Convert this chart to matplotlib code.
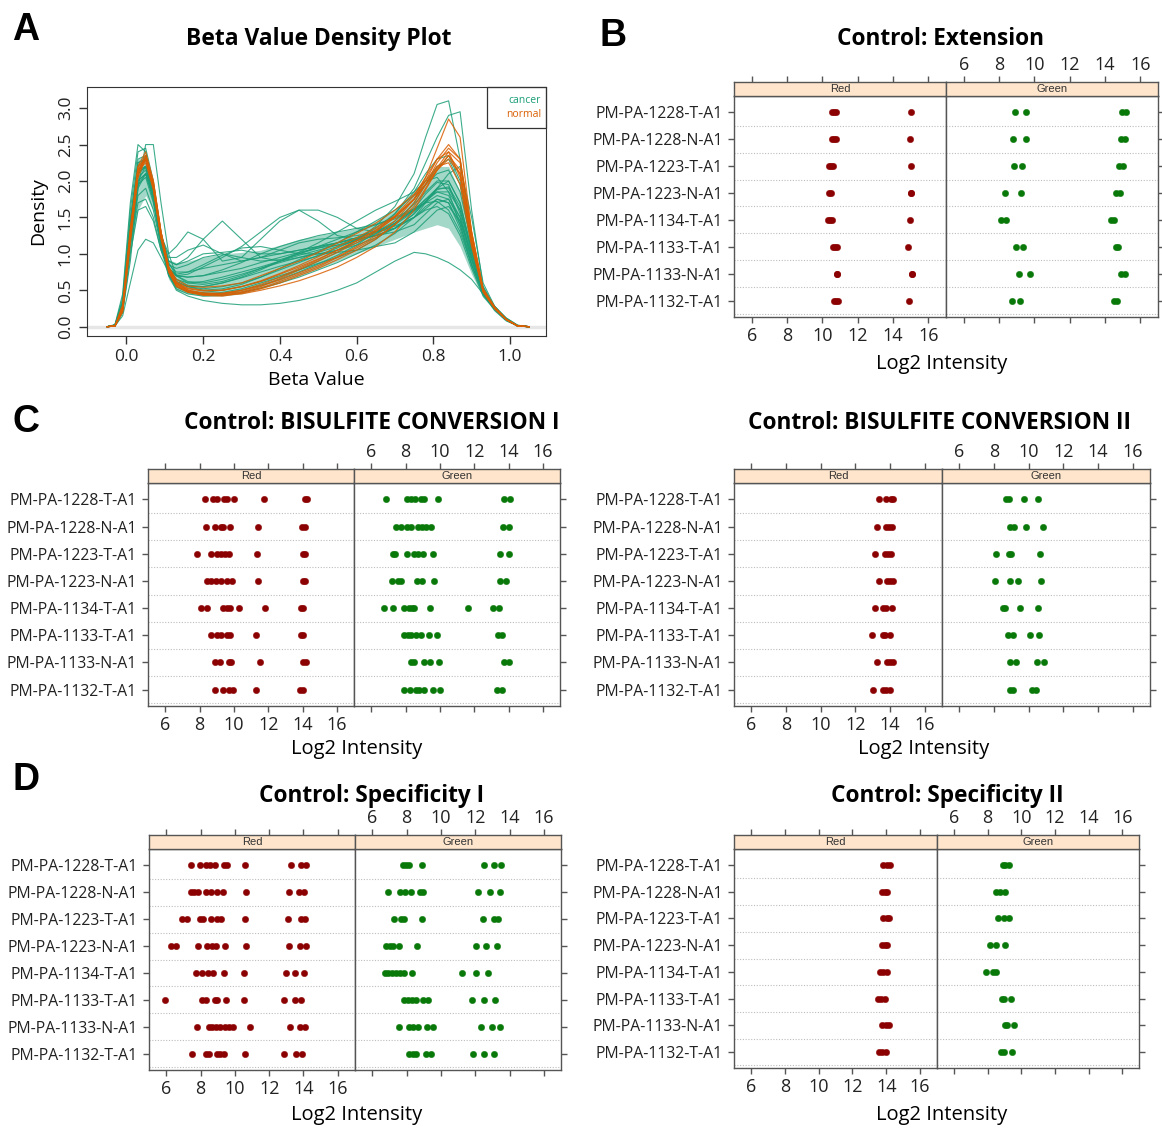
import numpy as np
import matplotlib
matplotlib.use('Agg')
import matplotlib.pyplot as plt
from matplotlib.patches import Rectangle

plt.rcParams['font.family'] = ['Open Sans', 'DejaVu Sans']

# ---------------- data ----------------
samples = ['PM-PA-1228-T-A1', 'PM-PA-1228-N-A1', 'PM-PA-1223-T-A1', 'PM-PA-1223-N-A1',
           'PM-PA-1134-T-A1', 'PM-PA-1133-T-A1', 'PM-PA-1133-N-A1', 'PM-PA-1132-T-A1']

# density curves (panel A) on a common beta grid
beta_grid = [-0.05, -0.03, -0.01, 0.01, 0.03, 0.05, 0.07, 0.09, 0.11, 0.13, 0.16, 0.20, 0.25,
             0.30, 0.35, 0.40, 0.45, 0.50, 0.55, 0.60, 0.65, 0.70, 0.75, 0.78, 0.81, 0.84,
             0.87, 0.90, 0.93, 0.96, 0.99, 1.02, 1.05]

cancer_density = [
    [0, .02, .35, 1.5, 2.25, 2.3, 1.85, 1.2, .8, .65, .57, .55, .6, .67, .75, .83, .9, .97, 1.05, 1.15, 1.27, 1.42, 1.62, 1.82, 1.98, 1.95, 1.55, .95, .45, .25, .1, .01, 0],
    [0, .03, .45, 1.7, 2.5, 2.4, 1.9, 1.25, .9, .85, .95, 1.2, 1.45, 1.2, .95, .9, .95, 1.0, 1.02, 1.05, 1.1, 1.15, 1.3, 1.45, 1.6, 1.65, 1.45, 1.0, .55, .28, .12, .02, 0],
    [0, .02, .3, 1.3, 2.1, 2.2, 1.8, 1.25, 1.0, 1.1, 1.3, 1.2, .9, .95, 1.2, 1.45, 1.6, 1.45, 1.25, 1.2, 1.25, 1.35, 1.5, 1.65, 1.75, 1.7, 1.35, .85, .45, .25, .1, .01, 0],
    [0, .02, .3, 1.3, 2.1, 2.2, 1.8, 1.15, .72, .55, .48, .45, .47, .52, .6, .68, .78, .9, 1.02, 1.18, 1.38, 1.65, 2.1, 2.6, 3.05, 3.1, 2.3, 1.15, .45, .22, .08, .01, 0],
    [0, .01, .2, 1.1, 1.9, 2.1, 1.8, 1.2, .75, .55, .47, .44, .45, .5, .57, .65, .75, .86, .98, 1.12, 1.3, 1.55, 1.9, 2.25, 2.6, 2.9, 2.95, 1.6, .55, .25, .1, .01, 0],
    [0, .01, .25, 1.2, 1.95, 2.05, 1.7, 1.1, .7, .5, .42, .36, .32, .3, .3, .32, .36, .42, .5, .6, .75, .9, 1.02, 1.0, .95, .88, .78, .65, .45, .28, .12, .02, 0],
    [0, .02, .3, 1.25, 2.0, 2.1, 1.75, 1.15, .8, .7, .72, .82, .95, 1.1, 1.3, 1.5, 1.6, 1.6, 1.5, 1.35, 1.3, 1.35, 1.5, 1.6, 1.65, 1.55, 1.25, .8, .42, .24, .1, .01, 0],
    [0, .01, .2, .9, 1.9, 2.5, 2.5, 1.7, 1.0, .7, .6, .58, .62, .7, .8, .9, 1.0, 1.08, 1.15, 1.22, 1.3, 1.42, 1.6, 1.75, 1.85, 1.85, 1.6, 1.05, .5, .27, .1, .01, 0],
    [0, .01, .15, .6, 1.05, 1.2, 1.15, .95, .75, .62, .55, .5, .52, .58, .68, .8, .92, 1.03, 1.15, 1.3, 1.45, 1.6, 1.8, 1.95, 2.1, 2.15, 1.85, 1.15, .5, .26, .1, .01, 0],
    [0, .02, .3, 1.3, 2.05, 2.15, 1.75, 1.2, .9, .85, .9, 1.0, 1.02, 1.05, 1.0, 1.0, 1.05, 1.1, 1.15, 1.2, 1.25, 1.3, 1.4, 1.55, 1.7, 1.75, 1.5, .95, .48, .25, .1, .01, 0],
    [0, .02, .3, 1.4, 2.2, 2.3, 1.85, 1.15, .7, .55, .48, .47, .5, .55, .62, .7, .78, .87, .95, 1.05, 1.2, 1.4, 1.7, 1.95, 2.2, 2.3, 1.95, 1.1, .5, .26, .1, .01, 0],
    [0, .02, .35, 1.45, 2.3, 2.35, 1.9, 1.25, .95, .95, 1.05, 1.12, 1.0, .9, .95, 1.05, 1.15, 1.2, 1.22, 1.25, 1.3, 1.38, 1.5, 1.62, 1.75, 1.7, 1.4, .9, .45, .24, .1, .01, 0],
    [0, .01, .25, 1.2, 2.0, 2.2, 1.85, 1.2, .72, .52, .45, .42, .43, .47, .53, .6, .68, .78, .88, 1.0, 1.12, 1.28, 1.5, 1.7, 1.9, 2.1, 2.2, 1.5, .6, .28, .1, .01, 0],
    [0, .02, .3, 1.35, 2.15, 2.2, 1.8, 1.15, .75, .6, .55, .55, .6, .68, .78, .9, 1.02, 1.15, 1.3, 1.45, 1.6, 1.72, 1.85, 2.0, 2.05, 1.85, 1.4, .85, .45, .24, .1, .01, 0],
    [0, .02, .3, 1.3, 2.1, 2.2, 1.8, 1.2, .85, .75, .75, .8, .85, .9, .95, 1.0, 1.05, 1.1, 1.15, 1.22, 1.3, 1.42, 1.6, 1.75, 1.9, 1.9, 1.6, 1.0, .48, .25, .1, .01, 0],
    [0, .02, .35, 1.4, 2.25, 2.3, 1.9, 1.2, .8, .7, .68, .7, .75, .8, .88, .95, 1.02, 1.08, 1.12, 1.18, 1.25, 1.35, 1.55, 1.72, 1.9, 2.0, 1.7, 1.05, .5, .26, .1, .01, 0],
    [0, .02, .3, 1.25, 2.0, 2.1, 1.75, 1.15, .85, .8, .85, .95, 1.0, .95, .9, .92, 1.0, 1.1, 1.2, 1.3, 1.4, 1.5, 1.62, 1.7, 1.72, 1.6, 1.3, .85, .45, .24, .1, .01, 0],
    [0, .01, .25, 1.2, 1.95, 2.1, 1.8, 1.2, .8, .62, .55, .52, .55, .6, .68, .78, .88, .98, 1.08, 1.2, 1.35, 1.55, 1.85, 2.1, 2.3, 2.35, 2.0, 1.15, .5, .26, .1, .01, 0],
    [0, .02, .3, 1.2, 1.8, 1.9, 1.6, 1.1, .8, .7, .68, .7, .78, .88, 1.0, 1.1, 1.18, 1.25, 1.3, 1.35, 1.4, 1.48, 1.6, 1.7, 1.8, 1.75, 1.45, .92, .48, .25, .1, .01, 0],
    [0, .02, .28, 1.1, 1.7, 1.75, 1.5, 1.05, .78, .65, .6, .62, .68, .75, .82, .9, .98, 1.05, 1.12, 1.2, 1.3, 1.45, 1.68, 1.85, 2.0, 2.0, 1.7, 1.05, .5, .26, .1, .01, 0],
    [0, .01, .2, 1.0, 1.6, 1.65, 1.45, 1.05, .8, .72, .75, .85, .98, 1.08, 1.1, 1.05, 1.0, 1.0, 1.05, 1.12, 1.22, 1.35, 1.55, 1.72, 1.88, 1.92, 1.65, 1.05, .5, .26, .1, .01, 0],
    [0, .02, .4, 1.6, 2.4, 2.45, 2.0, 1.3, .88, .7, .62, .6, .65, .72, .8, .88, .95, 1.02, 1.1, 1.18, 1.28, 1.4, 1.58, 1.72, 1.85, 1.8, 1.5, .95, .47, .25, .1, .01, 0],
]

# dense core of the cancer curves
cancer_core_lo = [0, .01, .2, 1.0, 1.6, 1.8, 1.6, 1.0, .65, .5, .45, .42, .42, .45, .52, .6, .7, .8, .9, 1.0, 1.1, 1.2, 1.3, 1.35, 1.4, 1.35, 1.1, .72, .4, .22, .08, .01, 0]
cancer_core_hi = [0, .02, .35, 1.5, 2.3, 2.35, 1.95, 1.25, .92, .88, .9, .95, 1.0, 1.02, 1.05, 1.12, 1.2, 1.25, 1.3, 1.35, 1.45, 1.6, 1.85, 2.05, 2.2, 2.2, 1.85, 1.1, .5, .27, .11, .01, 0]

normal_density = [
    [0, .01, .25, 1.3, 2.2, 2.4, 2.0, 1.3, .8, .6, .5, .45, .44, .47, .53, .62, .72, .82, .95, 1.08, 1.22, 1.4, 1.65, 1.9, 2.15, 2.35, 2.1, 1.2, .5, .26, .1, .01, 0],
    [0, .01, .22, 1.2, 2.1, 2.35, 1.95, 1.25, .78, .58, .5, .46, .46, .5, .56, .64, .74, .84, .96, 1.1, 1.25, 1.45, 1.75, 2.05, 2.45, 2.85, 2.6, 1.3, .5, .25, .1, .01, 0],
    [0, .01, .25, 1.25, 2.15, 2.35, 1.95, 1.25, .75, .55, .47, .43, .42, .46, .52, .6, .7, .8, .92, 1.05, 1.2, 1.4, 1.7, 1.95, 2.25, 2.45, 2.3, 1.3, .52, .27, .1, .01, 0],
    [0, .01, .3, 1.35, 2.2, 2.3, 1.9, 1.25, .82, .65, .56, .54, .56, .6, .7, .8, .9, 1.02, 1.15, 1.28, 1.42, 1.6, 1.82, 2.0, 2.2, 2.25, 1.95, 1.1, .48, .25, .1, .01, 0],
    [0, .01, .2, 1.15, 2.05, 2.3, 1.95, 1.3, .82, .6, .5, .46, .45, .48, .55, .66, .78, .9, 1.02, 1.15, 1.3, 1.5, 1.75, 2.0, 2.3, 2.5, 2.3, 1.3, .52, .27, .1, .01, 0],
    [0, .01, .25, 1.3, 2.15, 2.3, 1.9, 1.2, .75, .56, .48, .44, .45, .5, .58, .68, .8, .92, 1.05, 1.18, 1.32, 1.5, 1.75, 1.95, 2.15, 2.3, 2.1, 1.15, .48, .25, .1, .01, 0],
    [0, .01, .22, 1.2, 2.1, 2.3, 1.95, 1.28, .8, .58, .48, .44, .43, .45, .5, .56, .63, .72, .82, .95, 1.1, 1.3, 1.6, 1.88, 2.15, 2.35, 2.15, 1.2, .5, .26, .1, .01, 0],
    [0, .01, .28, 1.3, 2.15, 2.25, 1.88, 1.22, .78, .6, .52, .49, .5, .55, .62, .72, .82, .93, 1.05, 1.18, 1.33, 1.52, 1.8, 2.05, 2.3, 2.4, 2.05, 1.15, .48, .25, .1, .01, 0],
    [0, .01, .25, 1.25, 2.1, 2.35, 2.0, 1.3, .82, .62, .53, .5, .5, .55, .63, .73, .84, .96, 1.1, 1.22, 1.36, 1.52, 1.75, 1.95, 2.18, 2.4, 2.25, 1.25, .5, .26, .1, .01, 0],
]

# control probe intensities (log2), one list per sample, top to bottom
ext_red = [[10.54, 10.66, 10.76, 15.04], [10.54, 10.66, 10.76, 14.96], [10.39, 10.48, 10.58, 15.04],
           [10.40, 10.48, 15.00, 15.00], [10.33, 10.45, 10.56, 14.98], [10.61, 10.72, 10.82, 14.87],
           [10.82, 10.82, 15.06, 15.06], [10.65, 10.76, 10.86, 14.93]]
ext_green = [[8.88, 9.50, 14.95, 15.17], [8.79, 9.52, 14.91, 15.13], [8.86, 9.33, 14.79, 15.04],
             [8.32, 9.24, 14.62, 14.85], [8.11, 8.39, 14.32, 14.53], [8.96, 9.37, 14.60, 14.76],
             [9.11, 9.73, 14.93, 15.15], [8.73, 9.20, 14.53, 14.70]]

bis1_red = [[8.32, 8.80, 9.04, 9.42, 9.62, 10.01, 11.76, 14.13, 14.27],
            [8.35, 8.88, 9.23, 9.39, 9.77, 11.41, 13.98, 14.17],
            [7.83, 8.67, 9.00, 9.23, 9.48, 9.72, 11.33, 14.04, 14.15],
            [8.41, 8.68, 8.94, 9.23, 9.62, 9.89, 11.43, 14.00, 14.17],
            [8.10, 8.45, 9.39, 9.62, 9.77, 10.30, 11.82, 13.90, 14.02],
            [8.68, 9.00, 9.27, 9.62, 9.77, 11.27, 13.90, 14.00],
            [8.88, 9.19, 9.70, 9.85, 11.53, 14.04, 14.23],
            [8.92, 9.35, 9.72, 9.97, 11.29, 13.84, 14.02]]
bis1_green = [[6.86, 8.08, 8.32, 8.55, 8.90, 9.06, 9.91, 13.72, 14.09],
              [7.44, 7.73, 8.08, 8.32, 8.74, 8.98, 9.21, 9.48, 13.67, 14.02],
              [7.25, 7.38, 8.08, 8.51, 8.74, 9.02, 9.58, 13.53, 14.00],
              [7.19, 7.54, 7.73, 8.67, 8.98, 9.68, 13.53, 13.84],
              [6.76, 7.30, 7.89, 8.22, 8.35, 8.51, 9.44, 11.62, 13.08, 13.43],
              [7.93, 8.12, 8.32, 8.61, 8.90, 9.35, 9.83, 13.37, 13.63],
              [8.32, 8.47, 9.09, 9.42, 9.95, 13.76, 14.05],
              [7.93, 8.24, 8.61, 8.76, 9.09, 9.58, 10.01, 13.32, 13.63]]

bis2_red = [[13.37, 13.75, 14.04, 14.19], [13.27, 13.77, 13.96, 14.13], [13.12, 13.73, 13.90, 14.04],
            [13.35, 13.85, 14.00, 14.15], [13.12, 13.62, 13.77, 14.13], [12.96, 13.58, 13.73, 14.00],
            [13.27, 13.85, 14.00, 14.15], [13.04, 13.58, 13.75, 14.00]]
bis2_green = [[8.71, 8.87, 9.75, 10.56], [8.94, 9.17, 9.85, 10.81], [8.12, 8.87, 8.98, 10.65],
              [8.06, 8.94, 9.37, 10.73], [8.52, 8.63, 9.48, 10.54], [8.83, 9.08, 10.08, 10.62],
              [8.92, 9.29, 10.48, 10.87], [8.90, 9.10, 10.21, 10.42]]

spec1_red = [[7.46, 7.95, 8.30, 8.53, 8.82, 9.37, 9.56, 10.61, 13.28, 13.86, 14.13],
             [7.46, 7.65, 7.85, 8.30, 8.59, 8.94, 9.31, 10.63, 13.16, 13.74, 14.04],
             [6.93, 7.23, 7.95, 8.16, 8.59, 8.98, 9.17, 10.61, 13.08, 13.84, 14.07],
             [6.27, 6.58, 7.87, 8.39, 8.65, 8.92, 9.40, 10.63, 13.18, 13.78, 14.13],
             [7.71, 8.06, 8.45, 8.74, 9.37, 10.51, 12.96, 13.51, 14.05],
             [5.96, 8.06, 8.30, 8.82, 8.98, 9.46, 10.51, 12.87, 13.51, 13.88],
             [7.79, 8.49, 8.68, 8.92, 9.15, 9.40, 9.66, 9.89, 10.90, 13.24, 13.78, 14.09],
             [7.50, 8.33, 8.49, 8.94, 9.15, 9.39, 10.61, 12.87, 13.55, 13.94]]
spec1_green = [[7.79, 7.98, 8.17, 8.89, 12.49, 13.09, 13.51],
               [6.93, 7.63, 7.94, 8.27, 8.80, 8.95, 12.19, 12.89, 13.42],
               [7.30, 7.69, 7.88, 8.91, 12.43, 13.07, 13.32],
               [6.82, 7.01, 7.24, 7.55, 8.60, 12.02, 12.64, 13.28],
               [6.74, 6.93, 7.17, 7.40, 7.63, 7.86, 8.31, 11.22, 12.06, 12.74],
               [7.84, 8.08, 8.33, 8.56, 8.95, 9.28, 11.83, 12.54, 13.17],
               [7.59, 8.17, 8.37, 8.66, 9.20, 9.57, 12.33, 12.99, 13.46],
               [8.17, 8.37, 8.56, 9.15, 9.44, 11.88, 12.49, 13.09]]

spec2_red = [[13.78, 14.02, 14.21], [13.72, 13.92, 14.07], [13.82, 14.02, 14.15], [13.74, 13.92, 14.07],
             [13.66, 13.82, 14.05], [13.49, 13.68, 13.92], [13.76, 13.96, 14.17], [13.58, 13.72, 14.00]]
spec2_green = [[8.93, 9.05, 9.30], [8.50, 8.77, 9.06], [8.61, 8.97, 9.26], [8.14, 8.48, 9.01],
               [7.89, 8.32, 8.48], [8.85, 8.97, 9.42], [9.01, 9.16, 9.56], [8.81, 8.97, 9.44]]

intensity_ticks = [6, 8, 10, 12, 14, 16]

# ---------------- layout helpers ----------------
W, H = 1162, 1128
fig = plt.figure(figsize=(W / 100, H / 100), dpi=100)


def px_axes(x0, y0, x1, y1):
    return fig.add_axes([x0 / W, 1 - y1 / H, (x1 - x0) / W, (y1 - y0) / H])


def px_text(x, y, s, **kw):
    fig.text(x / W, 1 - y / H, s, **kw)


CANCER = '#1B9E77'
NORMAL = '#D95F02'
DOT_RED = '#8B0000'
DOT_GREEN = '#087808'
FRAME = '#555555'

# ---------------- panel A ----------------
ax = px_axes(87, 87, 546, 336)
ax.axhline(0, color='#e6e6e6', lw=2.5, zorder=0)
ax.fill_between(beta_grid, cancer_core_lo, cancer_core_hi, color=CANCER, alpha=0.4, lw=0)
for c in cancer_density:
    ax.plot(beta_grid, c, color=CANCER, lw=0.8, alpha=0.85)
for c in normal_density:
    ax.plot(beta_grid, c, color=NORMAL, lw=0.85, alpha=0.85)
ax.set_xlim(-0.103, 1.094)
ax.set_ylim(-0.128, 3.29)
ax.set_xticks([0.0, 0.2, 0.4, 0.6, 0.8, 1.0])
ax.set_xticklabels(['0.0', '0.2', '0.4', '0.6', '0.8', '1.0'])
ax.set_yticks([0.0, 0.5, 1.0, 1.5, 2.0, 2.5, 3.0])
ax.set_yticklabels(['0.0', '0.5', '1.0', '1.5', '2.0', '2.5', '3.0'], rotation=90, va='center')
ax.tick_params(direction='out', length=6, width=1, colors='#333333', labelsize=12.5,
               labelcolor='#222222')
for s in ax.spines.values():
    s.set_color('#333333')
ax.set_xlabel('Beta Value', fontsize=14, labelpad=4)
ax.set_ylabel('Density', fontsize=14, labelpad=8)
ax.add_patch(Rectangle((0.871, 0.835), 0.129, 0.165, transform=ax.transAxes, fill=False,
                       ec='#333333', lw=0.9, clip_on=False))
ax.text(0.989, 0.944, 'cancer', transform=ax.transAxes, ha='right', va='center', fontsize=7.5,
        color=CANCER)
ax.text(0.989, 0.888, 'normal', transform=ax.transAxes, ha='right', va='center', fontsize=7.5,
        color=NORMAL)
px_text(319, 39, 'Beta Value Density Plot', ha='center', va='center', fontsize=16.4,
        fontweight='bold')


# ---------------- dot plots ----------------
def dot_panel(x0, xsep, x1, y_strip, y_top, y_bot, red, green, title, title_x, title_y, xlab_x, xlab_y):
    levels = [8 - i for i in range(len(samples))]
    parts = [(x0, xsep, red, DOT_RED, 'Red'), (xsep, x1, green, DOT_GREEN, 'Green')]
    for k, (xa, xb, data, col, name) in enumerate(parts):
        a = px_axes(xa, y_top, xb, y_bot)
        for lev in levels:
            a.axhline(lev - 0.5, color='#bdbdbd', lw=0.8, ls=(0, (1, 1.5)), zorder=0)
        for lev, vals in zip(levels, data):
            a.plot(vals, [lev] * len(vals), 'o', ms=4.6, color=col, mec=col, mew=0.3, zorder=3)
        a.set_xlim(5, 17)
        a.set_ylim(0.4, 8.6)
        a.set_xticks(intensity_ticks)
        a.set_yticks(levels)
        a.tick_params(axis='x', direction='out', length=4, width=1, color=FRAME,
                      labelbottom=(k == 0), labelsize=13, labelcolor='#222222', pad=3)
        if k == 0:
            a.set_yticklabels(samples)
            a.tick_params(axis='y', direction='out', length=4, width=1, color=FRAME,
                          labelsize=11.3, labelcolor='#222222', pad=4)
        else:
            a.yaxis.tick_right()
            a.set_yticklabels([])
            a.tick_params(axis='y', direction='out', length=4, width=1, color=FRAME)
        for s in a.spines.values():
            s.set_color(FRAME)
            s.set_linewidth(1.0)

        st = px_axes(xa, y_strip, xb, y_top)
        st.set_facecolor('#FFE5CC')
        st.set_xlim(5, 17)
        st.set_ylim(0, 1)
        st.set_xticks(intensity_ticks)
        st.set_yticks([])
        st.xaxis.tick_top()
        st.tick_params(axis='x', direction='out', length=4, width=1, color=FRAME,
                       labeltop=(k == 1), labelsize=13, labelcolor='#222222', pad=2)
        for s in st.spines.values():
            s.set_color(FRAME)
            s.set_linewidth(1.0)
        st.text(11, 0.5, name, ha='center', va='center', fontsize=8, color='#333333',
                family='Liberation Sans')

    px_text(title_x, title_y, title, ha='center', va='center', fontsize=16.3, fontweight='bold')
    px_text(xlab_x, xlab_y, 'Log2 Intensity', ha='center', va='center', fontsize=14.5)


dot_panel(734, 946, 1158, 82, 96, 317, ext_red, ext_green, 'Control: Extension', 941, 39, 942, 364)
dot_panel(148, 354, 560, 469, 483, 706, bis1_red, bis1_green, 'Control: BISULFITE CONVERSION I',
          372, 423, 357, 749)
dot_panel(734, 942, 1150, 469, 483, 706, bis2_red, bis2_green, 'Control: BISULFITE CONVERSION II',
          940, 423, 924, 749)
dot_panel(149, 355, 561, 835, 849, 1070, spec1_red, spec1_green, 'Control: Specificity I',
          372, 796, 357, 1115)
dot_panel(734, 937, 1139, 835, 849, 1068, spec2_red, spec2_green, 'Control: Specificity II',
          947, 796, 942, 1115)

# panel letters
for letter, lx, ly in [('A', 12, 12), ('B', 600, 18), ('C', 12, 404), ('D', 12, 762)]:
    px_text(lx, ly, letter, ha='left', va='top', fontsize=27, fontweight='bold',
            family='Liberation Sans')

fig.savefig('out.png', dpi=100)
